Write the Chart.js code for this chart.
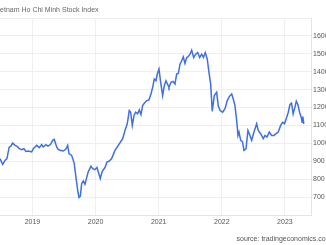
<!DOCTYPE html>
<html>
<head>
<meta charset="utf-8">
<script src="https://cdn.jsdelivr.net/npm/chart.js@4"></script>
<style>
  html, body { margin: 0; padding: 0; background: #fff; overflow: hidden; width: 326px; height: 245px; }
  #wrap { position: absolute; left: -10px; top: 0; width: 351px; height: 245px; }
</style>
</head>
<body>
<div id="wrap"><canvas id="chart" width="351" height="245"></canvas></div>
<script>
// index level (x = decimal year)
const dates = [
  2018.485, 2018.528, 2018.564, 2018.595, 2018.632, 2018.655, 2018.686, 2018.723, 2018.759, 2018.791,
  2018.829, 2018.865, 2018.897, 2018.933, 2018.987, 2019.013, 2019.067, 2019.108, 2019.146, 2019.171,
  2019.214, 2019.246, 2019.288, 2019.320, 2019.345, 2019.384, 2019.404, 2019.436, 2019.488, 2019.526,
  2019.558, 2019.578, 2019.621, 2019.647, 2019.662, 2019.685, 2019.716, 2019.737, 2019.758, 2019.780,
  2019.805, 2019.832, 2019.859, 2019.884, 2019.927, 2019.954, 2019.990, 2020.022, 2020.043, 2020.074,
  2020.106, 2020.149, 2020.181, 2020.212, 2020.255, 2020.307, 2020.430, 2020.466, 2020.502, 2020.534,
  2020.556, 2020.582, 2020.609, 2020.635, 2020.667, 2020.693, 2020.719, 2020.746, 2020.772, 2020.810,
  2020.846, 2020.878, 2020.905, 2020.930, 2020.957, 2020.978, 2021.005, 2021.032, 2021.063, 2021.089,
  2021.116, 2021.152, 2021.163, 2021.195, 2021.227, 2021.258, 2021.285, 2021.311, 2021.338, 2021.365,
  2021.390, 2021.417, 2021.444, 2021.469, 2021.496, 2021.523, 2021.555, 2021.586, 2021.618, 2021.650,
  2021.681, 2021.710, 2021.738, 2021.770, 2021.797, 2021.824, 2021.849, 2021.881, 2021.919, 2021.944,
  2021.973, 2022.014, 2022.051, 2022.087, 2022.119, 2022.157, 2022.182, 2022.209, 2022.236, 2022.257,
  2022.273, 2022.300, 2022.328, 2022.352, 2022.384, 2022.415, 2022.436, 2022.474, 2022.510, 2022.553,
  2022.578, 2022.616, 2022.658, 2022.685, 2022.716, 2022.753, 2022.791, 2022.827, 2022.859, 2022.895,
  2022.933, 2022.965, 2022.994, 2023.029, 2023.054, 2023.081, 2023.105, 2023.131, 2023.160, 2023.181,
  2023.206, 2023.233, 2023.258, 2023.274, 2023.284, 2023.300
];
const values = [
  915, 883, 905, 915, 980, 983, 1002, 989, 983, 970,
  965, 970, 955, 957, 952, 970, 989, 976, 993, 980,
  993, 985, 995, 1017, 1022, 980, 968, 961, 957, 967,
  989, 943, 933, 905, 887, 822, 739, 698, 705, 776,
  790, 772, 809, 841, 872, 859, 853, 865, 841, 804,
  844, 865, 896, 900, 915, 961, 1026, 1072, 1109, 1183,
  1174, 1100, 1156, 1174, 1165, 1187, 1161, 1211, 1224, 1239,
  1243, 1276, 1313, 1359, 1350, 1387, 1415, 1341, 1267, 1322,
  1350, 1322, 1313, 1341, 1346, 1331, 1387, 1390, 1442, 1461,
  1483, 1446, 1479, 1485, 1498, 1520, 1479, 1498, 1507, 1479,
  1498, 1480, 1507, 1470, 1396, 1331, 1179, 1267, 1285, 1211,
  1183, 1174, 1193, 1239, 1261, 1276, 1248, 1211, 1128, 1044,
  1063, 1017, 1010, 961, 970, 1072, 1054, 1017, 1063, 1109,
  1072, 1054, 1026, 1044, 1035, 1063, 1044, 1044, 1054, 1063,
  1100, 1118, 1110, 1146, 1174, 1217, 1224, 1165, 1202, 1235,
  1217, 1174, 1146, 1118, 1150, 1109
];
const yearTicks = [2019, 2020, 2021, 2022, 2023];
const titleText = "Vietnam Ho Chi Minh Stock Index";
const sourceText = "source: tradingeconomics.com";

const fontFamily = "'Liberation Sans', Arial, sans-serif";

// titre + source dessinés à la main pour les placer au pixel près
const textPlugin = {
  id: "texts",
  afterDraw(chart) {
    const ctx = chart.ctx;
    ctx.save();
    ctx.font = "7px " + fontFamily;
    ctx.fillStyle = "#666";
    ctx.textBaseline = "middle";
    ctx.textAlign = "left";
    ctx.fillText(titleText, 4, 10);
    ctx.fillStyle = "#555";
    ctx.fillText(sourceText, 246.5, 239);
    ctx.restore();
  }
};

const points = dates.map((d, i) => ({ x: d, y: values[i] }));

new Chart(document.getElementById("chart"), {
  type: "line",
  data: {
    datasets: [{
      data: points,
      borderColor: "#3f6fe4",
      borderWidth: 1.5,
      pointRadius: 0,
      tension: 0,
      fill: false
    }]
  },
  options: {
    responsive: false,
    animation: false,
    layout: { padding: { top: 18, bottom: 16, left: 0, right: 0 } },
    plugins: { legend: { display: false }, tooltip: { enabled: false } },
    scales: {
      x: {
        type: "linear",
        min: 2018.327,
        max: 2023.414,
        afterBuildTicks: scale => { scale.ticks = yearTicks.map(v => ({ value: v })); },
        afterFit: scale => { scale.height = 14; },
        grid: { color: "#efefef", drawTicks: false },
        border: { color: "#e4e4e4" },
        ticks: {
          padding: 3,
          color: "#555",
          font: { size: 7, family: fontFamily },
          maxRotation: 0,
          callback: v => String(v)
        }
      },
      y: {
        position: "right",
        min: 600,
        max: 1700,
        afterFit: scale => { scale.width = 30; },
        grid: { color: "#efefef", drawTicks: false },
        border: { color: "#e4e4e4" },
        ticks: {
          stepSize: 100,
          padding: 2,
          color: "#555",
          font: { size: 7, family: fontFamily },
          callback: v => (v === 600 || v === 1700) ? "" : String(v)
        }
      }
    }
  },
  plugins: [textPlugin]
});
</script>
</body>
</html>
